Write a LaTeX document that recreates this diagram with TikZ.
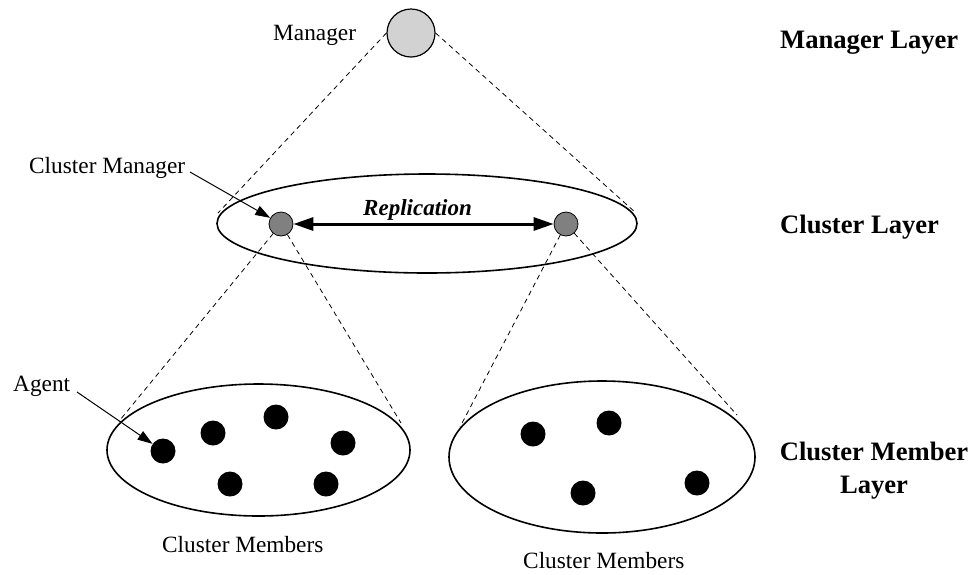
\documentclass[tikz,border=0pt]{standalone}
\usepackage{fontspec}
\setmainfont{Liberation Serif}
\usetikzlibrary{arrows.meta,shapes.geometric}

\definecolor{mgrfill}{RGB}{210,210,210}
\definecolor{cmfill}{RGB}{128,128,128}

\begin{document}
\begin{tikzpicture}[x=1pt,y=-1pt,
  lbl/.style={font=\fontsize{23.3}{28}\selectfont, inner sep=0pt},
  layerlbl/.style={font=\fontsize{26.6}{33}\selectfont\bfseries, inner sep=0pt, align=center},
  replbl/.style={font=\fontsize{23}{28}\selectfont\bfseries\itshape, inner sep=0pt},
  group/.style={draw, ellipse, line width=1.6pt, inner sep=0pt},
  mgr/.style={draw, circle, line width=1.2pt, fill=mgrfill, minimum size=48pt, inner sep=0pt},
  cmgr/.style={draw, circle, line width=0.8pt, fill=cmfill, minimum size=24pt, inner sep=0pt},
  agent/.style={circle, fill=black, minimum size=25pt, inner sep=0pt},
  scope line/.style={dash pattern=on 5pt off 4pt, line width=0.8pt},
  pointer/.style={line width=1pt, -{Triangle[length=15pt,width=10pt]}},
  repl/.style={line width=3pt, {Triangle[length=20pt,width=13pt]}-{Triangle[length=20pt,width=13pt]}}
]
\useasboundingbox (0,0) rectangle (973,574);

% groups
\node[group, minimum width=420pt, minimum height=99pt] (clayer) at (427,223.5) {};
\node[group, minimum width=303pt, minimum height=132pt] (lgroup) at (258.5,450) {};
\node[group, minimum width=306pt, minimum height=152pt] (rgroup) at (602,457) {};

% managers
\node[mgr] (manager) at (411,33) {};
\node[cmgr] (cm1) at (281,224) {};
\node[cmgr] (cm2) at (566,224) {};

% agents
\node[agent] (a1) at (163,451) {};
\node[agent] (a2) at (213,433) {};
\node[agent] (a3) at (276,417) {};
\node[agent] (a4) at (343,443) {};
\node[agent] (a5) at (230,484) {};
\node[agent] (a6) at (326,484) {};
\node[agent] (b1) at (533,434) {};
\node[agent] (b2) at (609,423) {};
\node[agent] (b3) at (583,493) {};
\node[agent] (b4) at (697,483) {};

% ends of the scope lines
\coordinate (cw) at (218,213);
\coordinate (ce) at (636,213);
\coordinate (lw) at (120,420);
\coordinate (le) at (401,423);
\coordinate (rw) at (460,427);
\coordinate (re) at (737,415);

\draw[scope line] (manager.west) -- (cw);
\draw[scope line] (manager.east) -- (ce);
\draw[scope line] (cm1) -- (lw);
\draw[scope line] (cm1) -- (le);
\draw[scope line] (cm2) -- (rw);
\draw[scope line] (cm2) -- (re);

% replication between cluster managers
\draw[repl] (cm1) -- node[replbl, pos=0.477, anchor=base, yshift=9pt] {Replication} (cm2);

% labels
\node[lbl, anchor=base west] (mgrlbl) at (273,40) {Manager};
\node[lbl, anchor=base west] (cmlbl) at (29,173) {Cluster Manager};
\node[lbl, anchor=base west] (aglbl) at (13,391) {Agent};
\node[lbl, anchor=base west] (lmem) at (162,552) {Cluster Members};
\node[lbl, anchor=base west] (rmem) at (523,568) {Cluster Members};

\coordinate (cmtail) at (190,172);
\coordinate (agtail) at (77,392);
\draw[pointer] (cmtail) -- (cm1);
\draw[pointer] (agtail) -- (a1);

% layer names
\node[layerlbl, anchor=base west] (l1) at (780,48) {Manager Layer};
\node[layerlbl, anchor=base west] (l2) at (780,233) {Cluster Layer};
\node[layerlbl, anchor=base] (l3) at (874,493) {Cluster Member\\Layer};
\end{tikzpicture}
\end{document}
